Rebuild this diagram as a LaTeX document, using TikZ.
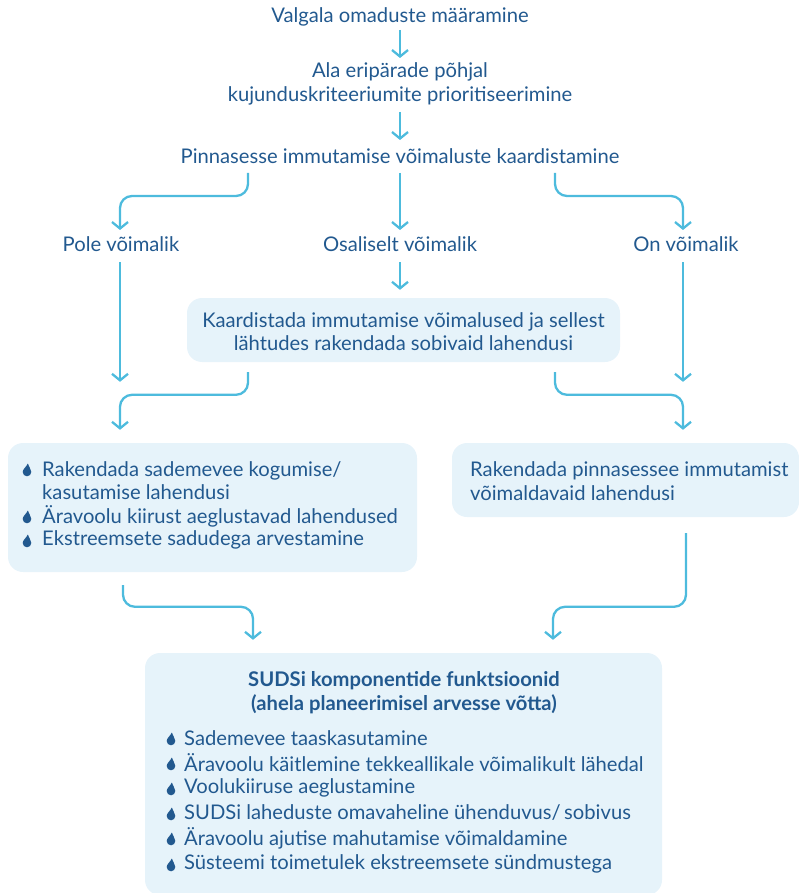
\documentclass[tikz,border=0pt]{standalone}
\usepackage{fontspec}
\setmainfont{Lato}
\usetikzlibrary{arrows.meta,calc}
\definecolor{tb}{HTML}{22598F}
\definecolor{ab}{HTML}{4DBBDD}
\definecolor{bf}{HTML}{E6F3FA}
\begin{document}
\begin{tikzpicture}[x=1pt,y=-1pt,
 txt/.style={text=tb, font=\fontsize{20.2}{23.5}\selectfont, align=center, inner sep=0pt},
 ltxt/.style={txt, align=left, anchor=west},
 ttl/.style={txt, font=\fontsize{20.2}{23.5}\selectfont\bfseries},
 box/.style={fill=bf, rounded corners=15pt, inner sep=0pt, draw=none},
 arr/.style={draw=ab, line width=2.3pt, rounded corners=12pt, -{Straight Barb[length=6.5pt,width=16pt]}},
 drop/.pic={\fill[tb] (0.8,-6.5) .. controls (1.6,-3.2) and (4.3,-1) .. (4.3,2) arc[start angle=0,end angle=180,radius=4.3] .. controls (-4.3,-1) and (-0.5,-3.2) .. (0.8,-6.5);}
]
\useasboundingbox (0,0) rectangle (798,893);

% boxes
\node[box, minimum width=433pt, minimum height=64pt] (mbox) at (403.5,330) {};
\node[box, minimum width=409pt, minimum height=129pt] (lbox) at (212.5,507.5) {};
\node[box, minimum width=347pt, minimum height=74pt] (rbox) at (625.5,480) {};
\node[box, minimum width=517pt, minimum height=242pt] (bbox) at (403.5,774) {};

% texts
\node[txt] (t1) at (400,17) {Valgala omaduste määramine};
\node[txt] (t2) at (400,84) {Ala eripärade põhjal\\kujunduskriteeriumite prioritiseerimine};
\node[txt] (t3) at (400,156) {Pinnasesse immutamise võimaluste kaardistamine};
\node[txt] (pole) at (121,244) {Pole võimalik};
\node[txt] (osal) at (400,244) {Osaliselt võimalik};
\node[txt] (on) at (686,244) {On võimalik};
\node[txt] (mtxt) at (403.5,331.5) {Kaardistada immutamise võimalused ja sellest\\lähtudes rakendada sobivaid lahendusi};
\node[ltxt] (rtxt) at (470,481) {Rakendada pinnasessee immutamist\\võimaldavaid lahendusi};

\node[ltxt] (l1) at (42,480.5) {Rakendada sademevee kogumise/\\kasutamise lahendusi};
\node[ltxt] (l2) at (42,516) {Äravoolu kiirust aeglustavad lahendused};
\node[ltxt] (l3) at (42,540) {Ekstreemsete sadudega arvestamine};
\pic at (27,470) {drop};
\pic at (27,517) {drop};
\pic at (27,541) {drop};

\node[ttl] (btitle) at (404,692.5) {SUDSi komponentide funktsioonid\\(ahela planeerimisel arvesse võtta)};
\node[ltxt] (b1) at (184,738) {Sademevee taaskasutamine};
\node[ltxt] (b2) at (184,763) {Äravoolu käitlemine tekkeallikale võimalikult lähedal};
\node[ltxt] (b3) at (184,788) {Voolukiiruse aeglustamine};
\node[ltxt] (b4) at (184,813) {SUDSi laheduste omavaheline ühenduvus/\,sobivus};
\node[ltxt] (b5) at (184,838) {Äravoolu ajutise mahutamise võimaldamine};
\node[ltxt] (b6) at (184,864) {Süsteemi toimetulek ekstreemsete sündmustega};
\foreach \yy in {739,764,789,814,839,865} \pic at (171,\yy) {drop};

% connectors
\draw[arr] ($(t1)+(0,13)$) -- ($(t2)+(0,-26)$);
\draw[arr] ($(t2)+(0,28)$) -- ($(t3)+(0,-16)$);
\draw[arr] ($(t3)+(-152,17)$) |- ($(pole)+(-1,-48)$) -- ($(pole)+(-1,-14)$);
\draw[arr] ($(t3)+(0,17)$) -- ($(osal)+(0,-14)$);
\draw[arr] ($(t3)+(155,17)$) |- ($(on)+(-3,-48)$) -- ($(on)+(-3,-14)$);
\draw[arr] ($(pole)+(-1,18)$) -- ($(lbox.north)+(-92.5,-61)$);
\draw[arr] ($(osal)+(0,18)$) -- ($(mbox.north)+(-3.5,-8)$);
\draw[arr] ($(on)+(-3,18)$) -- ($(rbox.north)+(57.5,-61)$);
\draw[arr] ($(mbox.south)+(-155.5,10)$) |- ($(lbox.north)+(-92.5,-48)$) -- ($(lbox.north)+(-92.5,-13)$);
\draw[arr] ($(mbox.south)+(151.5,10)$) |- ($(rbox.north)+(57.5,-48)$) -- ($(rbox.north)+(57.5,-13)$);
\draw[arr] ($(lbox.south)+(-89.5,13)$) |- ($(bbox.north)+(-150.5,-46)$) -- ($(bbox.north)+(-150.5,-13)$);
\draw[arr] ($(rbox.south)+(60.5,16)$) |- ($(bbox.north)+(149.5,-46)$) -- ($(bbox.north)+(149.5,-13)$);
\end{tikzpicture}
\end{document}
